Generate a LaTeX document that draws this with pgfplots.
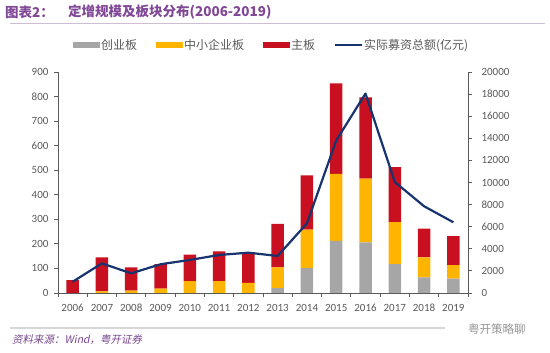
\documentclass[border=0pt]{standalone}
\usepackage{pgfplots}
\pgfplotsset{compat=1.18}
\usepackage{fontspec}
\setmainfont{Carlito}[Numbers=Lining]
\newfontfamily\tickfont{Carlito}[Numbers={Lining,Monospaced}]
\newfontfamily\cjk{Noto Sans CJK SC}
\newfontfamily\cjkit[FakeSlant=0.2]{Noto Sans CJK SC}
\definecolor{cgray}{RGB}{166,166,166}
\definecolor{cyel}{RGB}{255,180,0}
\definecolor{cred}{RGB}{200,16,32}
\definecolor{cnavy}{RGB}{23,52,110}
\definecolor{ctitle}{RGB}{128,72,150}
\definecolor{cfoot}{RGB}{120,70,140}
\definecolor{axiscol}{RGB}{90,90,90}
\definecolor{labcol}{RGB}{89,89,89}
\begin{document}
\begin{tikzpicture}
\path[use as bounding box] (0pt,0pt) rectangle (550pt,353pt);
% title
\node[anchor=west, text=ctitle, font=\cjk\bfseries\fontsize{13.5}{14}\selectfont, inner sep=0] at (5pt,341pt) {图表2：};
\node[anchor=west, text=ctitle, font=\cjk\bfseries\fontsize{13.5}{14}\selectfont, inner sep=0] at (68pt,341pt) {定增规模及板块分布(2006-2019)};
\draw[color={rgb,255:red,205;green,190;blue,212}, line width=1pt] (10pt,329pt) -- (545pt,329pt);
% footer
\draw[color={rgb,255:red,215;green,215;blue,215}, line width=1.5pt] (10pt,25pt) -- (445pt,25pt);
\node[anchor=west, text=cfoot, font=\cjkit\fontsize{10.5}{11}\selectfont, inner sep=0] at (12pt,13pt) {资料来源：Wind，粤开证券};
\node[anchor=west, text={rgb,255:red,150;green,150;blue,150}, font=\cjk\fontsize{11.5}{12}\selectfont, inner sep=0] at (468pt,24pt) {粤开策略聊};

\begin{axis}[
  at={(58pt,60pt)}, anchor=south west, scale only axis,
  width=410pt, height=221pt,
  ybar stacked, bar width=12.5pt,
  xmin=-0.5, xmax=13.5, ymin=0, ymax=900,
  xtick={0,1,2,3,4,5,6,7,8,9,10,11,12,13},
  xticklabels={2006,2007,2008,2009,2010,2011,2012,2013,2014,2015,2016,2017,2018,2019},
  minor xtick={-0.5,0.5,1.5,2.5,3.5,4.5,5.5,6.5,7.5,8.5,9.5,10.5,11.5,12.5,13.5},
  x tick style={draw=none},
  minor x tick style={draw=axiscol, line width=0.8pt},
  minor tick length=4pt,
  ytick={0,100,...,900},
  axis x line*=bottom, axis y line*=left,
  x axis line style={-}, y axis line style={-},
  tick align=outside, major tick length=4pt,
  axis line style={axiscol, line width=0.8pt},
  y tick style={axiscol, line width=0.8pt},
  ticklabel style={font=\tickfont\fontsize{11}{11}\selectfont, text=labcol},
  /pgf/number format/assume math mode=true,
  xticklabel style={anchor=base, yshift=-15pt},
  yticklabel style={xshift=-2pt},
  legend columns=4,
  legend style={draw=none, fill=none, at={(0.52,1.122)}, anchor=center,
    font=\cjk\fontsize{12}{12}\selectfont, text=labcol,
    nodes={inner sep=1.5pt},
    /tikz/every even column/.append style={column sep=17pt}},
  legend cell align=left,
]
\addplot[fill=cgray, draw=none, legend image code/.code={\fill[cgray] (0pt,-3pt) rectangle (27pt,3pt);}]
  coordinates {(0,0) (1,0) (2,0) (3,0) (4,0) (5,0) (6,0) (7,20) (8,101) (9,212) (10,206) (11,118) (12,64) (13,59)};
\addlegendentry{创业板}
\addplot[fill=cyel, draw=none, legend image code/.code={\fill[cyel] (0pt,-3pt) rectangle (27pt,3pt);}]
  coordinates {(0,0) (1,7) (2,10) (3,18) (4,48) (5,48) (6,41) (7,84) (8,157) (9,273) (10,260) (11,171) (12,81) (13,55)};
\addlegendentry{中小企业板}
\addplot[fill=cred, draw=none, legend image code/.code={\fill[cred] (0pt,-3pt) rectangle (27pt,3pt);}]
  coordinates {(0,52) (1,138) (2,94) (3,100) (4,108) (5,121) (6,124) (7,177) (8,221) (9,369) (10,331) (11,224) (12,117) (13,118)};
\addlegendentry{主板}
\addlegendimage{legend image code/.code={\draw[cnavy, line width=2pt] (0pt,0pt) -- (27pt,0pt);}}
\addlegendentry{实际募资总额(亿元)}
\end{axis}

\begin{axis}[
  at={(58pt,60pt)}, anchor=south west, scale only axis,
  width=410pt, height=221pt,
  xmin=-0.5, xmax=13.5, ymin=0, ymax=20000,
  axis y line*=right, axis x line=none,
  y axis line style={-},
  ytick={0,2000,...,20000}, scaled y ticks=false,
  tick align=outside, major tick length=4pt,
  axis line style={axiscol, line width=0.8pt},
  tick style={axiscol, line width=0.8pt},
  ticklabel style={font=\tickfont\fontsize{11}{11}\selectfont, text=labcol},
  /pgf/number format/assume math mode=true,
  /pgf/number format/1000 sep={},
  yticklabel style={xshift=6pt},
]
\addplot[cnavy, line width=2.2pt, mark=none, line join=round]
  coordinates {(0,1020) (1,2680) (2,1780) (3,2600) (4,2990) (5,3440) (6,3650) (7,3350) (8,6300) (9,13800) (10,18050) (11,10050) (12,7850) (13,6400)};
\end{axis}
\end{tikzpicture}
\end{document}
